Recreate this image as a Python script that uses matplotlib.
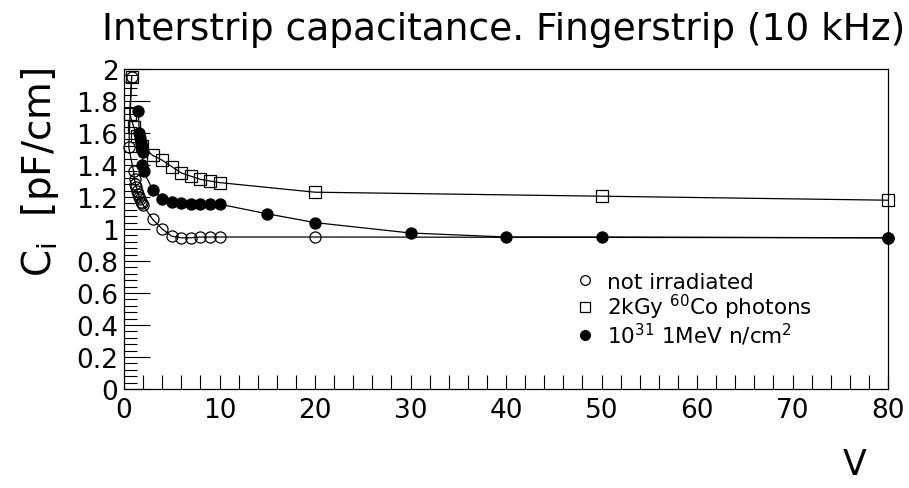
import matplotlib
matplotlib.use("Agg")
import matplotlib.pyplot as plt
from matplotlib.lines import Line2D
from matplotlib.ticker import MultipleLocator

plt.rcParams['font.family'] = ['DejaVu Sans']
plt.rcParams['mathtext.default'] = 'regular'

# Interstrip capacitance [pF/cm] versus bias voltage [V]
v_unirr = [0.8, 0.5, 1.0, 1.1, 1.2, 1.3, 1.4, 1.5, 1.6, 1.7, 1.8, 1.9, 2.0,
           3, 4, 5, 6, 7, 8, 9, 10, 20, 80]
c_unirr = [1.95, 1.51, 1.36, 1.31, 1.28, 1.26, 1.24, 1.22, 1.20, 1.19, 1.17, 1.16, 1.15,
           1.06, 1.00, 0.955, 0.945, 0.945, 0.95, 0.95, 0.95, 0.95, 0.945]

v_gamma = [0.8, 0.6, 1.0, 1.4, 1.9, 3, 4, 5, 6, 7, 8, 9, 10, 20, 50, 80]
c_gamma = [1.95, 1.72, 1.64, 1.58, 1.52, 1.46, 1.43, 1.39, 1.35, 1.33, 1.31, 1.30, 1.29,
           1.23, 1.205, 1.18]

v_neutr = [1.5, 1.6, 1.7, 1.8, 1.9, 2.0, 1.9, 2.05, 3, 4, 5, 6, 7, 8, 9, 10,
           15, 20, 30, 40, 50, 80]
c_neutr = [1.74, 1.60, 1.57, 1.54, 1.51, 1.48, 1.40, 1.36, 1.245, 1.19, 1.17, 1.16, 1.155,
           1.155, 1.155, 1.155, 1.095, 1.04, 0.975, 0.95, 0.95, 0.945]

labels = ["not irradiated",
          "2kGy $^{60}$Co photons",
          "10$^{31}$ 1MeV n/cm$^{2}$"]

fig = plt.figure(figsize=(9.09, 4.89), dpi=100)
ax = fig.add_axes([124/909, 1-390/489, (888-124)/909, (390-70)/489])

ms = 8
ax.plot(v_unirr, c_unirr, '-', color='black', lw=0.9, marker='o', ms=ms,
        mfc='none', mec='black', mew=0.9, clip_on=False)
ax.plot(v_gamma, c_gamma, '-', color='black', lw=0.9, marker='s', ms=ms,
        mfc='none', mec='black', mew=0.9, clip_on=False)
ax.plot(v_neutr, c_neutr, '-', color='black', lw=0.9, marker='o', ms=ms,
        mfc='black', mec='black', mew=0.9, clip_on=False)

ax.set_xlim(0, 80)
ax.set_ylim(0, 2)
ax.xaxis.set_major_locator(MultipleLocator(10))
ax.xaxis.set_minor_locator(MultipleLocator(2))
ax.yaxis.set_major_locator(MultipleLocator(0.2))
ax.yaxis.set_minor_locator(MultipleLocator(0.04))
ax.tick_params(axis='both', which='both', direction='in', top=False, right=False,
               width=0.8, labelsize=19)
ax.tick_params(axis='x', which='major', length=10, pad=6)
ax.tick_params(axis='x', which='minor', length=10)
ax.tick_params(axis='y', which='major', length=19, pad=4)
ax.tick_params(axis='y', which='minor', length=9)

def fmt(v, pos):
    return f"{v:g}"
ax.xaxis.set_major_formatter(plt.FuncFormatter(fmt))
ax.yaxis.set_major_formatter(plt.FuncFormatter(fmt))

for sp in ax.spines.values():
    sp.set_linewidth(0.9)

fig.text(905/909, 1-30/489, "Interstrip capacitance. Fingerstrip (10 kHz)",
         ha='right', va='center', fontsize=27)
fig.text(40/909, 1-172/489, r"C$_{i}$  [pF/cm]", rotation=90,
         ha='center', va='center', fontsize=28)
fig.text(855/909, 1-465/489, "V", ha='center', va='center', fontsize=25)

handles = [
    Line2D([], [], ls='none', marker='o', ms=7, mfc='none', mec='black', mew=0.9),
    Line2D([], [], ls='none', marker='s', ms=7, mfc='none', mec='black', mew=0.9),
    Line2D([], [], ls='none', marker='o', ms=7, mfc='black', mec='black', mew=0.9),
]
ax.legend(handles, labels, loc='upper left', bbox_to_anchor=(563/909, 1-262/489),
          bbox_transform=fig.transFigure, frameon=False, fontsize=15.5,
          handlelength=1.0, handletextpad=0.55, labelspacing=0.0, borderpad=0)

fig.savefig("out.png", dpi=100)
